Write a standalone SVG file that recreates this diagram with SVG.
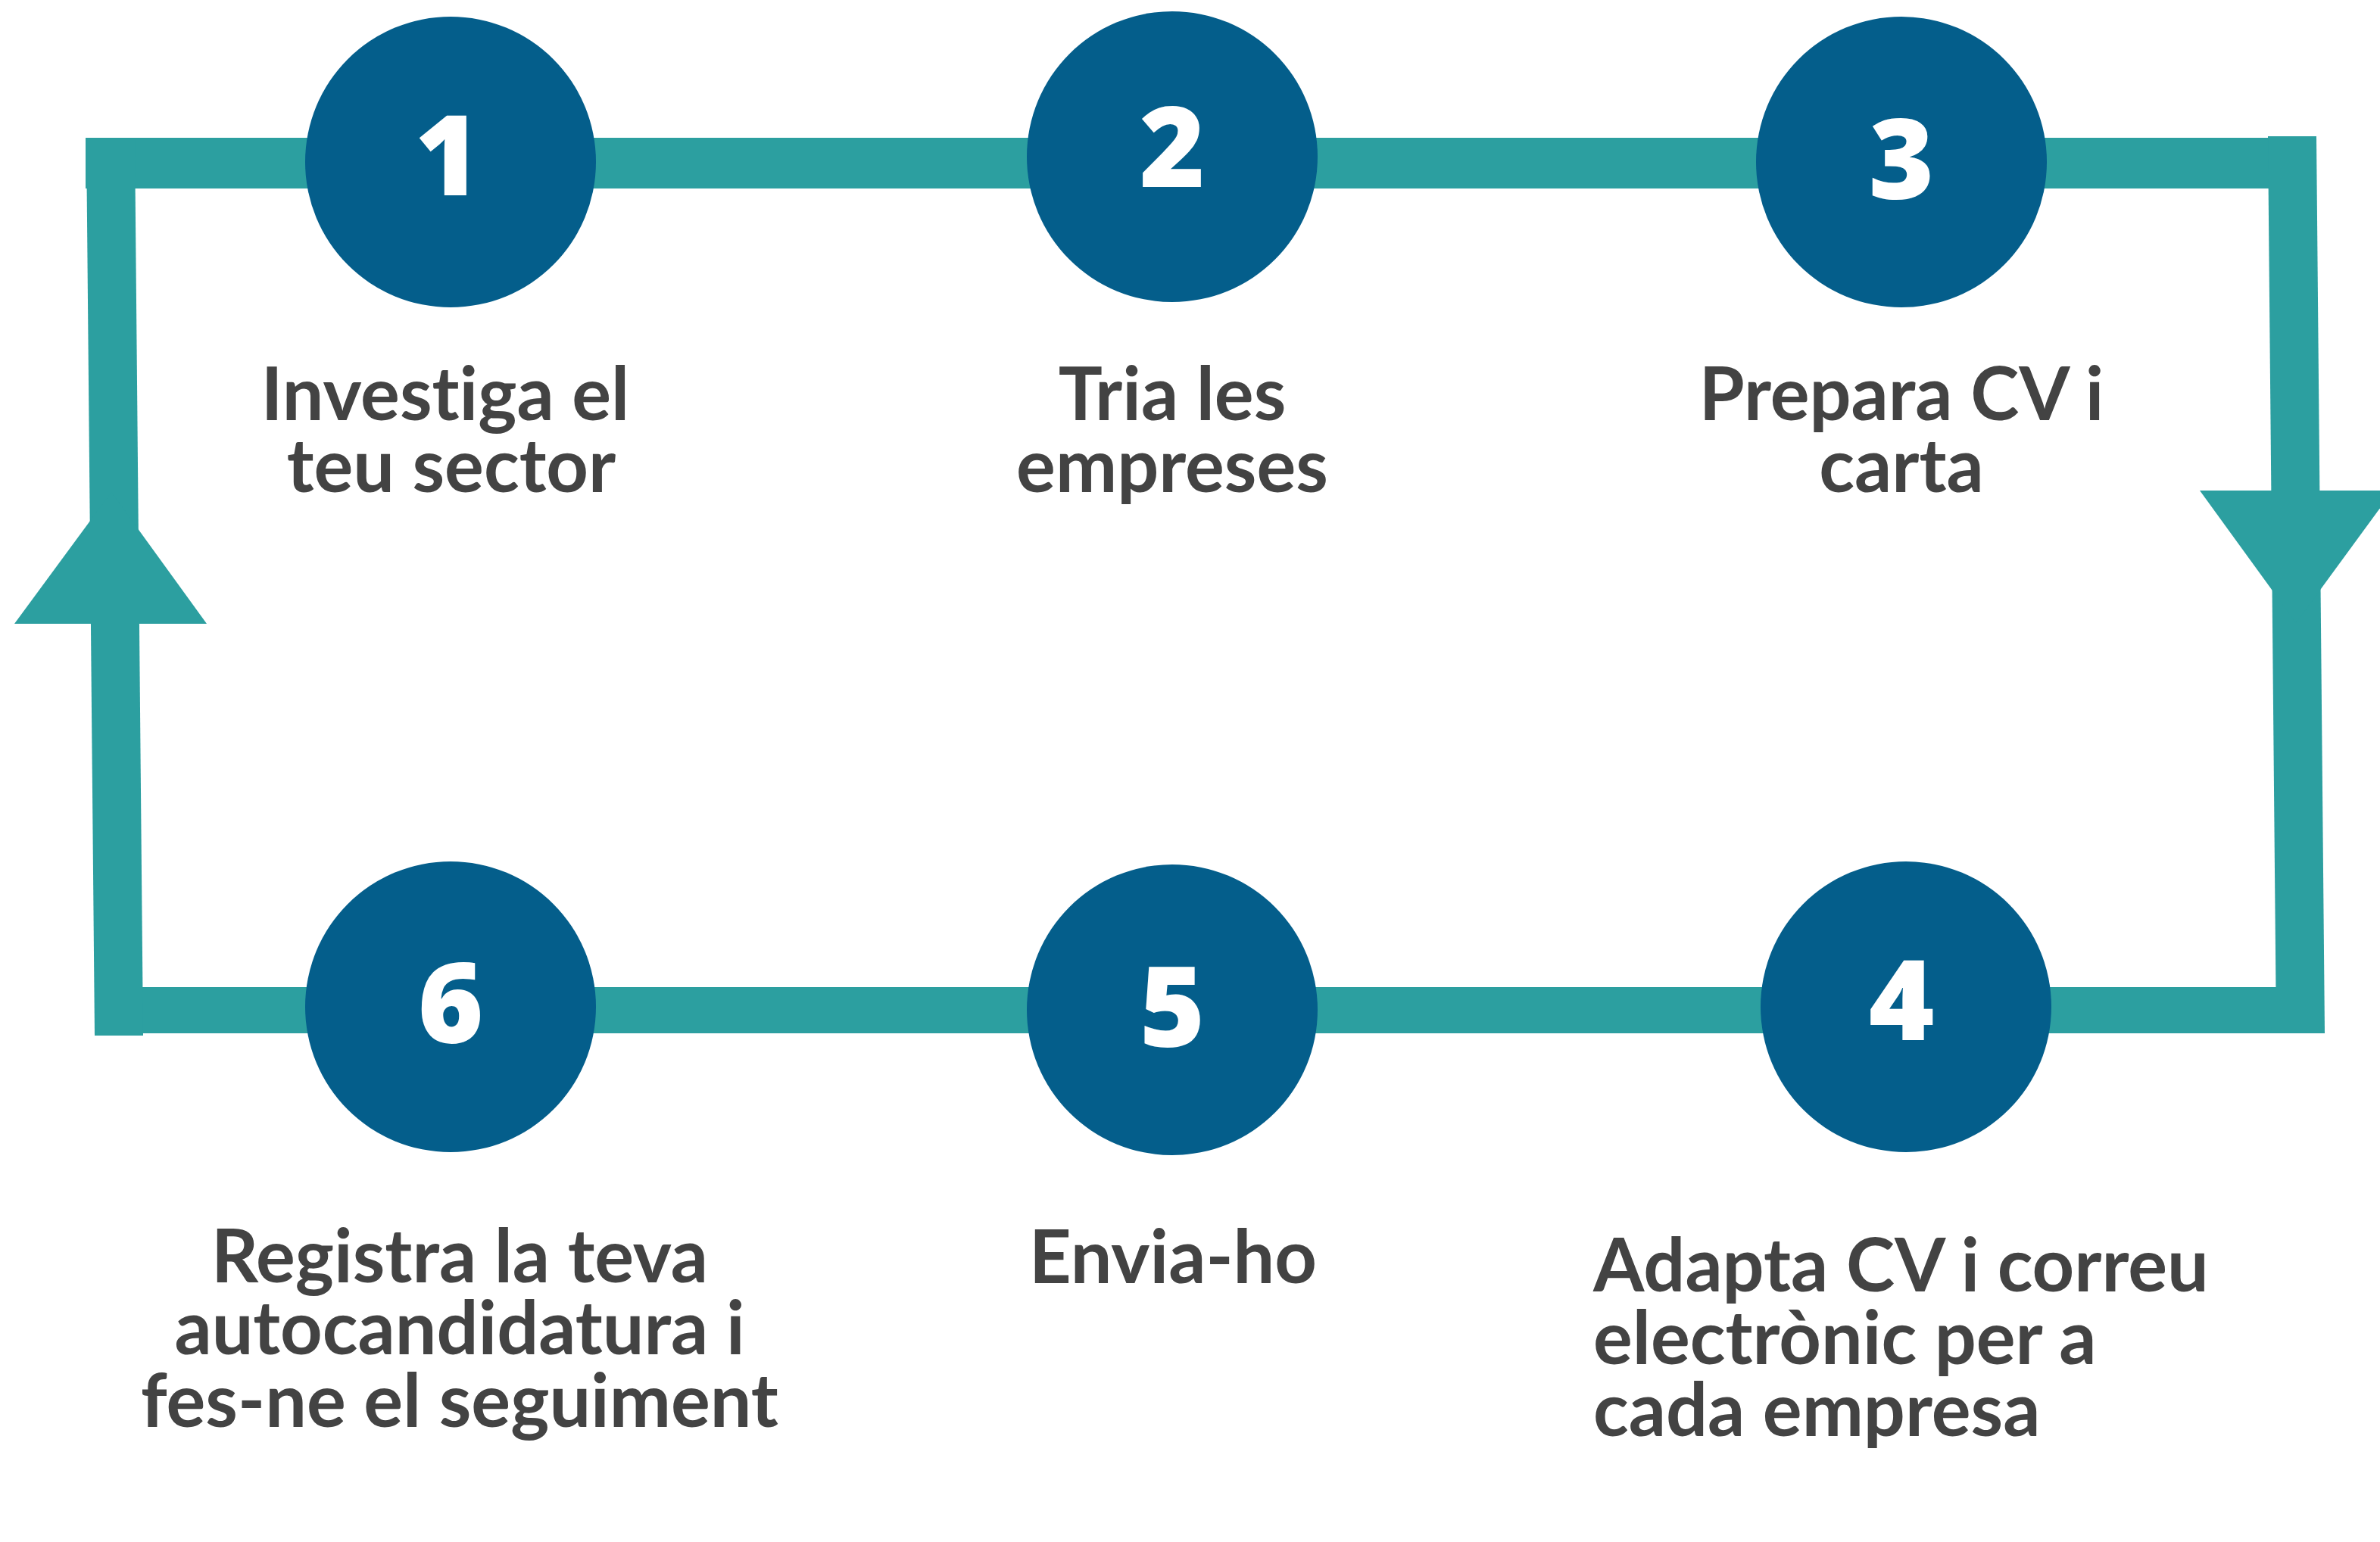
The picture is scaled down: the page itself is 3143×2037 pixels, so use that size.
<svg xmlns="http://www.w3.org/2000/svg" width="3143" height="2037" viewBox="0 0 3143 2037">
<style>
.bar{fill:#2C9FA0}
.circ{fill:#045E8B}
.num{font-family:"Open Sans","DejaVu Sans",sans-serif;font-weight:800;font-size:148px;fill:#FFFFFF;text-anchor:middle}
.lbl{font-family:Lato,"Liberation Sans",sans-serif;font-weight:700;font-size:97px;fill:#434343;text-anchor:middle;font-variant-ligatures:none}
.lbl-l{font-family:Lato,"Liberation Sans",sans-serif;font-weight:700;font-size:97px;fill:#434343;text-anchor:start;font-variant-ligatures:none}
</style>
<rect width="3143" height="2037" fill="#FFFFFF"/>
<g id="connectors">
  <rect class="bar" x="113" y="182" width="2890" height="67"/>
  <polygon class="bar" points="2995,180 3059,180 3070,1365 3006,1365"/>
  <polygon class="bar" points="2905,648 3160,648 3032,823"/>
  <rect class="bar" x="180" y="1304" width="2889" height="61"/>
  <polygon class="bar" points="114,182 178,182 189,1368 125,1368"/>
  <polygon class="bar" points="19,824 273,824 147,650"/>
</g>
<g id="node1">
  <circle class="circ" cx="595" cy="214" r="192"/>
  <text class="num" x="591" y="258">1</text>
  <text class="lbl" x="588" y="555">Investiga el</text>
  <text class="lbl" x="596" y="650">teu sector</text>
</g>
<g id="node2">
  <circle class="circ" cx="1548" cy="207" r="192"/>
  <text class="num" x="1548" y="247">2</text>
  <text class="lbl" x="1548" y="555">Tria les</text>
  <text class="lbl" x="1548" y="650">empreses</text>
</g>
<g id="node3">
  <circle class="circ" cx="2511" cy="214" r="192"/>
  <text class="num" x="2511" y="263">3</text>
  <text class="lbl" x="2511" y="555">Prepara CV i</text>
  <text class="lbl" x="2511" y="650">carta</text>
</g>
<g id="node4">
  <circle class="circ" cx="2517" cy="1330" r="192"/>
  <text class="num" x="2511" y="1374">4</text>
  <text class="lbl-l" x="2104" y="1706">Adapta CV i correu</text>
  <text class="lbl-l" x="2104" y="1802">electrònic per a</text>
  <text class="lbl-l" x="2104" y="1897">cada empresa</text>
</g>
<g id="node5">
  <circle class="circ" cx="1548" cy="1334" r="192"/>
  <text class="num" x="1548" y="1383">5</text>
  <text class="lbl" x="1549" y="1695">Envia-ho</text>
</g>
<g id="node6">
  <circle class="circ" cx="595" cy="1330" r="192"/>
  <text class="num" x="595" y="1378">6</text>
  <text class="lbl" x="607" y="1694">Registra la teva</text>
  <text class="lbl" x="607" y="1789">autocandidatura i</text>
  <text class="lbl" x="607" y="1885">fes-ne el seguiment</text>
</g>
</svg>
